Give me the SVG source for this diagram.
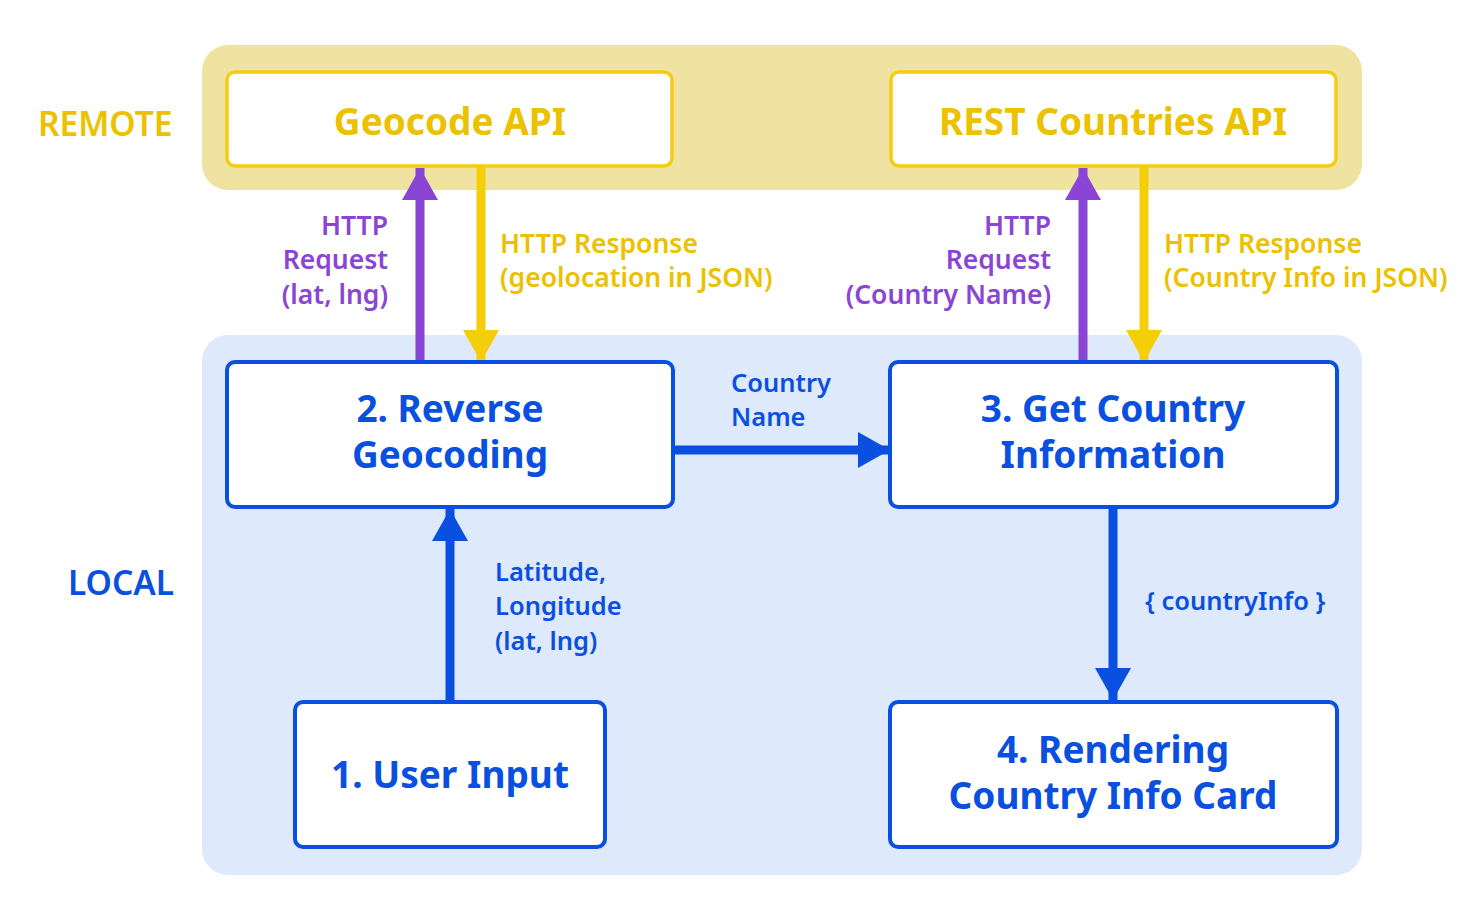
<svg xmlns="http://www.w3.org/2000/svg" width="1476" height="912" viewBox="0 0 1476 912">
<style>
.t{font-family:"Noto Sans","Liberation Sans",sans-serif;font-weight:600}
.band-r{fill:#F0E3A2}
.band-l{fill:#DEE9FB}
.rbox{fill:#fff;stroke:#F5CC10;stroke-width:3.5}
.lbox{fill:#fff;stroke:#0A50E0;stroke-width:4}
.yt{fill:#EBC100}
.bt{fill:#0A50E0}
.pt{fill:#8A45D5}
.big{font-size:37px;font-weight:700}
.mid{font-size:26.5px}
.sm{font-size:25.5px}
</style>
<defs>
<marker id="ap" markerUnits="userSpaceOnUse" markerWidth="40" markerHeight="40" refX="32" refY="18" orient="auto"><path d="M0,0L32,18L0,36Z" fill="#8A45D5"/></marker>
<marker id="ay" markerUnits="userSpaceOnUse" markerWidth="40" markerHeight="40" refX="32" refY="18" orient="auto"><path d="M0,0L32,18L0,36Z" fill="#F5CE0A"/></marker>
<marker id="ab" markerUnits="userSpaceOnUse" markerWidth="40" markerHeight="40" refX="32" refY="18" orient="auto"><path d="M0,0L32,18L0,36Z" fill="#0A50E0"/></marker>
</defs>
<rect width="1476" height="912" fill="#fff"/>
<g id="bands">
<rect class="band-r" x="202" y="45" width="1160" height="145" rx="26"/>
<rect class="band-l" x="202" y="335" width="1160" height="540" rx="26"/>
<text class="t yt" x="38" y="136" font-size="33.5">REMOTE</text>
<text class="t bt" x="68" y="595" font-size="33.5">LOCAL</text>
</g>
<g id="connectors">
<line x1="420" y1="362" x2="420" y2="168" stroke="#8A45D5" stroke-width="9" marker-end="url(#ap)"/>
<line x1="481" y1="166" x2="481" y2="362" stroke="#F5CE0A" stroke-width="9" marker-end="url(#ay)"/>
<line x1="1083" y1="362" x2="1083" y2="168" stroke="#8A45D5" stroke-width="9" marker-end="url(#ap)"/>
<line x1="1144" y1="166" x2="1144" y2="362" stroke="#F5CE0A" stroke-width="9" marker-end="url(#ay)"/>
<line x1="673" y1="450" x2="890" y2="450" stroke="#0A50E0" stroke-width="9" marker-end="url(#ab)"/>
<line x1="450" y1="702" x2="450" y2="509" stroke="#0A50E0" stroke-width="9" marker-end="url(#ab)"/>
<line x1="1113" y1="507" x2="1113" y2="700" stroke="#0A50E0" stroke-width="9" marker-end="url(#ab)"/>
<g class="t mid pt" text-anchor="end">
<text x="388" y="235">HTTP</text><text x="388" y="269">Request</text><text x="388" y="304">(lat, lng)</text>
<text x="1051" y="235">HTTP</text><text x="1051" y="269">Request</text><text x="1051" y="304">(Country Name)</text>
</g>
<g class="t mid yt">
<text x="500" y="253">HTTP Response</text><text x="500" y="287">(geolocation in JSON)</text>
<text x="1164" y="253">HTTP Response</text><text x="1164" y="287">(Country Info in JSON)</text>
</g>
<g class="t sm bt">
<text x="731" y="392">Country</text><text x="731" y="426">Name</text>
<text x="495" y="581">Latitude,</text><text x="495" y="615">Longitude</text><text x="495" y="650">(lat, lng)</text>
<text x="1145" y="610">{ countryInfo }</text>
</g>
</g>
<g id="geocode-api">
<rect class="rbox" x="227" y="72" width="445" height="94" rx="8"/>
<text class="t big yt" x="450" y="135" text-anchor="middle">Geocode API</text>
</g>
<g id="rest-countries-api">
<rect class="rbox" x="891" y="72" width="445" height="94" rx="8"/>
<text class="t big yt" x="1113" y="135" text-anchor="middle">REST Countries API</text>
</g>
<g id="reverse-geocoding">
<rect class="lbox" x="227" y="362" width="446" height="145" rx="8"/>
<text class="t big bt" x="450" y="422" text-anchor="middle">2. Reverse</text>
<text class="t big bt" x="450" y="468" text-anchor="middle">Geocoding</text>
</g>
<g id="get-country">
<rect class="lbox" x="890" y="362" width="447" height="145" rx="8"/>
<text class="t big bt" x="1113" y="422" text-anchor="middle">3. Get Country</text>
<text class="t big bt" x="1113" y="468" text-anchor="middle">Information</text>
</g>
<g id="user-input">
<rect class="lbox" x="295" y="702" width="310" height="145" rx="8"/>
<text class="t big bt" x="450" y="788" text-anchor="middle">1. User Input</text>
</g>
<g id="rendering">
<rect class="lbox" x="890" y="702" width="447" height="145" rx="8"/>
<text class="t big bt" x="1113" y="763" text-anchor="middle">4. Rendering</text>
<text class="t big bt" x="1113" y="809" text-anchor="middle">Country Info Card</text>
</g>
</svg>
